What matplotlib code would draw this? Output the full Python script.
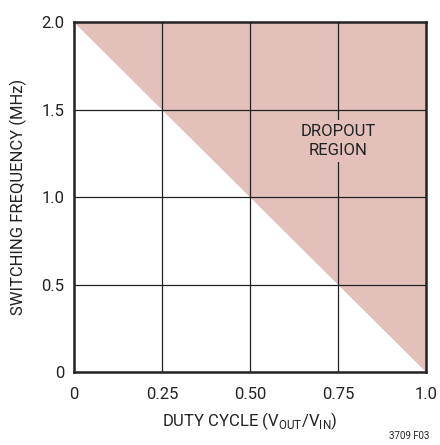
import numpy as np
from matplotlib import pyplot as plt

plt.rcParams['font.family'] = ['Roboto', 'DejaVu Sans']

# dropout boundary: max switching frequency vs duty cycle
duty = [0.0, 1.0]
fmax = [2.0, 0.0]
xticks = [0, 0.25, 0.50, 0.75, 1.0]
xlabels = ['0', '0.25', '0.50', '0.75', '1.0']
yticks = [0, 0.5, 1.0, 1.5, 2.0]
ylabels = ['0', '0.5', '1.0', '1.5', '2.0']

fig = plt.figure(figsize=(4.4, 4.45), dpi=100)
ax = fig.add_axes([0.168, 0.164, 0.800, 0.786])

ax.fill_between(duty, fmax, 2.0, color='#e4c0ba', lw=0, zorder=1)

ax.set_xlim(0, 1.0)
ax.set_ylim(0, 2.0)
ax.set_xticks(xticks)
ax.set_xticklabels(xlabels)
ax.set_yticks(yticks)
ax.set_yticklabels(ylabels)
ax.tick_params(length=0, labelsize=12, colors='#222222')
ax.tick_params(axis='x', pad=11)
ax.tick_params(axis='y', pad=7)
for t in yticks[1:-1]:
    ax.axhline(t, color='#222222', lw=0.9, zorder=2)
for t in xticks[1:-1]:
    ax.axvline(t, color='#222222', lw=0.9, zorder=2)
for s in ax.spines.values():
    s.set_linewidth(1.8)
    s.set_color('#222222')
    s.set_zorder(3)

ax.text(0.75, 1.32, 'DROPOUT\nREGION', ha='center', va='center', fontsize=12,
        color='#222222', linespacing=1.35, zorder=10,
        bbox=dict(facecolor='#e4c0ba', edgecolor='none', pad=3))

ax.set_xlabel('DUTY CYCLE (V$_{\\mathregular{OUT}}$/V$_{\\mathregular{IN}}$)',
              fontsize=12, color='#222222', labelpad=6)
ax.set_ylabel('SWITCHING FREQUENCY (MHz)', fontsize=12, color='#222222', labelpad=10)

fig.text(0.975, 0.008, '3709 F03', fontsize=7, ha='right', va='bottom', color='#222222')

fig.savefig('out.png', dpi=100)
